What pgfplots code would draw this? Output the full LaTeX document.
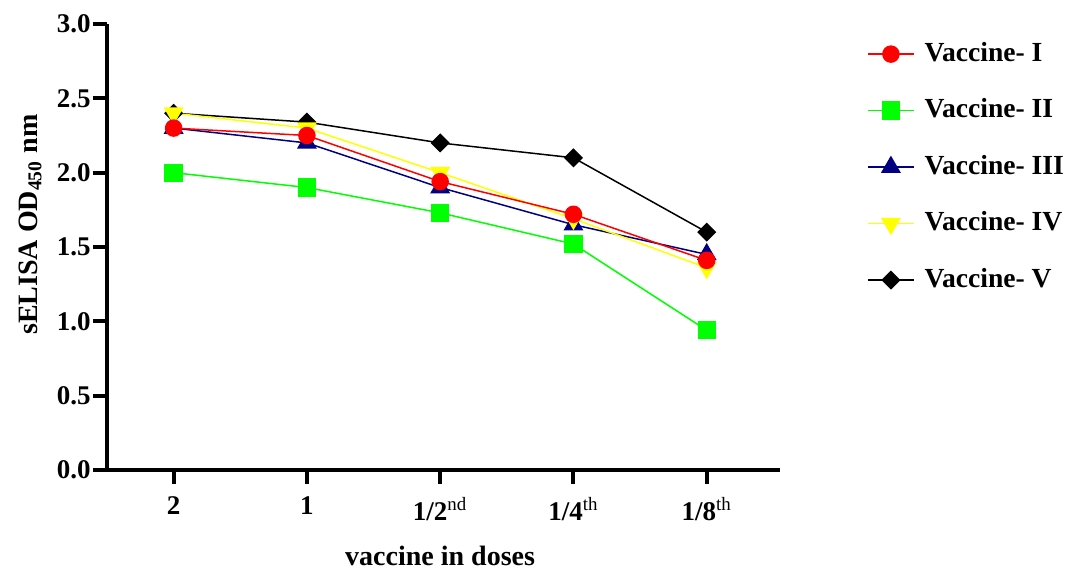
\documentclass[border=0pt]{standalone}
\usepackage{fontspec}
\setmainfont{Liberation Serif}
\usepackage{pgfplots}
\pgfplotsset{compat=1.18}
\definecolor{vred}{RGB}{255,0,0}
\definecolor{vgreen}{RGB}{0,255,0}
\definecolor{vblue}{RGB}{0,0,128}
\definecolor{vyellow}{RGB}{255,255,0}
\definecolor{vblack}{RGB}{0,0,0}
\begin{document}
\begin{tikzpicture}
\begin{axis}[
  at={(0,0)}, anchor=south west,
  scale only axis, width=336.5pt, height=223pt,
  xmin=-0.5, xmax=4.55, ymin=0, ymax=3,
  axis x line*=bottom, axis y line*=left,
  axis line style={line width=2pt, -},
  xtick={0,1,2,3,4},
  xticklabels={2,1,1/2\textsuperscript{\mdseries nd},1/4\textsuperscript{\mdseries th},1/8\textsuperscript{\mdseries th}},
  xticklabel style={yshift=-3pt},
  ytick={0,0.5,1,1.5,2,2.5,3},
  yticklabel style={/pgf/number format/fixed, /pgf/number format/fixed zerofill, /pgf/number format/precision=1, inner sep=1pt},
  /pgf/number format/assume math mode=true,
  tick align=outside, major tick length=7pt,
  tick style={line width=2pt, black},
  tick label style={font=\fontsize{13.5}{16}\selectfont\bfseries},
  xlabel={vaccine in doses},
  ylabel={sELISA OD\textsubscript{450} nm},
  label style={font=\fontsize{14}{17}\selectfont\bfseries},
  xlabel style={at={(axis description cs:0.495,-0.215)}, anchor=base},
  ylabel style={at={(axis description cs:-0.1144,0.55)}, anchor=center},
  legend image code/.code={\draw[mark repeat=2,mark phase=2] plot coordinates {(0pt,0pt) (11.5pt,0pt) (23pt,0pt)};},
  legend style={at={(axis description cs:1.12,0.976)}, anchor=north west, draw=none, fill=none,
    font=\fontsize{13.8}{16}\selectfont\bfseries, row sep=13.25pt, column sep=4pt,
    nodes={inner sep=1pt, text height=10pt, text depth=3pt}},
  legend cell align=left,
]
\addplot[vblack, line width=0.75pt, mark=square*, mark size=3pt, mark options={fill=vblack, rotate=45}, forget plot]
  coordinates {(0,2.40) (1,2.34) (2,2.20) (3,2.10) (4,1.60)};
\addplot[vgreen, line width=0.75pt, mark=square*, mark size=4.2pt, mark options={fill=vgreen}, forget plot]
  coordinates {(0,2.00) (1,1.90) (2,1.73) (3,1.52) (4,0.94)};
\addplot[vblue, line width=0.75pt, mark=triangle*, mark size=5pt, mark options={fill=vblue}, forget plot]
  coordinates {(0,2.30) (1,2.20) (2,1.90) (3,1.65) (4,1.45)};
\addplot[vyellow, line width=0.75pt, mark=triangle*, mark size=5pt, mark options={fill=vyellow, rotate=180}, forget plot]
  coordinates {(0,2.40) (1,2.30) (2,2.00) (3,1.69) (4,1.36)};
\addplot[vred, line width=0.75pt, mark=*, mark size=4pt, mark options={fill=vred}, forget plot]
  coordinates {(0,2.30) (1,2.25) (2,1.94) (3,1.72) (4,1.41)};
\addlegendimage{vred, line width=0.75pt, mark=*, mark size=4pt, mark options={fill=vred}}
\addlegendimage{vgreen, line width=0.75pt, mark=square*, mark size=4.2pt, mark options={fill=vgreen}}
\addlegendimage{vblue, line width=0.75pt, mark=triangle*, mark size=5pt, mark options={fill=vblue}}
\addlegendimage{vyellow, line width=0.75pt, mark=triangle*, mark size=5pt, mark options={fill=vyellow, rotate=180}}
\addlegendimage{vblack, line width=0.75pt, mark=square*, mark size=3pt, mark options={fill=vblack, rotate=45}}
\legend{Vaccine- I, Vaccine- II, Vaccine- III, Vaccine- IV, Vaccine- V}
\end{axis}
\pgfresetboundingbox
\path (-53.5pt,-50pt) rectangle (479pt,235pt);
\end{tikzpicture}
\end{document}
